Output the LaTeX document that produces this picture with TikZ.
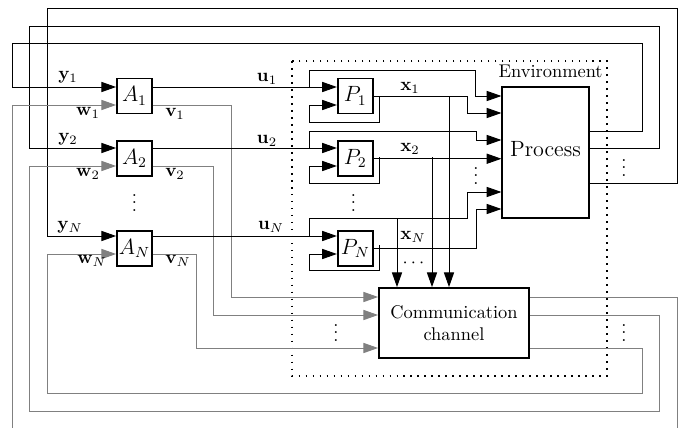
\documentclass[tikz,border=0pt]{standalone}
\usepackage{amsmath, amssymb}
\usepackage{tikz}
\usetikzlibrary{arrows.meta, positioning, calc}

\begin{document}
\begin{tikzpicture}[
    x=0.5435pt, y=-0.5435pt,
    agent/.style={rectangle, minimum size=19pt, inner sep=0pt, draw=black, line width=1pt, font=\large},
    plant/.style={agent},
    process/.style={rectangle, minimum width=47.3pt, minimum height=71.2pt, text depth=4pt, draw=black, line width=0.6pt, font=\large},
    channel/.style={rectangle, minimum width=81.5pt, minimum height=38pt, align=center, draw=black, line width=1pt},
    env/.style={draw=black, line width=0.9pt, dash pattern=on 0.9pt off 2.9pt},
    sig/.style={-{Triangle[length=8pt, width=5.5pt]}, line width=0.5pt},
    msg/.style={sig, gray},
    lbl/.style={inner sep=0pt},
    dots/.style={inner sep=0pt, anchor=base}
]
    \useasboundingbox (0,0) rectangle (685,428);

    % Environment
    \draw[env] (292,61) rectangle (607,376);
    \node[lbl, anchor=base east] (envlbl) at (603,77) {Environment};

    % Agents
    \node[agent] (A1) at (134.5,96) {$A_1$};
    \node[agent, below=14.1pt of A1] (A2) {$A_2$};
    \node[agent, below=28.8pt of A2] (AN) {$A_N$};
    \node[dots] (dA) at (134.5,211) {$\vdots$};

    % Plants
    \node[plant, right=100pt of A1] (P1) {$P_1$};
    \node[plant, right=100pt of A2] (P2) {$P_2$};
    \node[plant, right=100pt of AN] (PN) {$P_N$};
    \node[dots] (dP) at (353.5,211) {$\vdots$};

    % Process and channel
    \node[process] (proc) at (545.5,152.5) {Process};
    \node[channel] (chan) at (454,323) {Communication\\channel};

    % Junctions
    \coordinate (ju1) at (309,87);
    \coordinate (ju2) at (309,148);
    \coordinate (juN) at (309,236);
    \coordinate (jf1) at (379,96);
    \coordinate (jf2) at (379,157);
    \coordinate (jfN) at (379,245);
    \coordinate (jx1) at (449,96);
    \coordinate (jx2) at (432,157);
    \coordinate (jcN) at (397,218);

    % Process -> agents
    \draw[sig] (proc.east |- 0,131) -| (642,43) -| (12,87) -- (A1.west |- 0,87);
    \draw[sig] (proc.east |- 0,148) -| (659,26) -| (29,148) -- (A2.west |- 0,148);
    \draw[sig] (proc.east |- 0,183) -| (677,8) -| (47,236) -- (AN.west |- 0,236);

    % Channel -> agents
    \draw[msg] (chan.east |- 0,297) -| (677,434) -| (12,105) -- (A1.west |- 0,105);
    \draw[msg] (chan.east |- 0,315) -| (659,411) -| (29,166) -- (A2.west |- 0,166);
    \draw[msg] (chan.east |- 0,348) -| (642,393) -| (47,254) -- (AN.west |- 0,254);

    % Agents -> channel
    \draw[msg] (A1.east |- 0,105) -| (231,297) -- (chan.west |- 0,297);
    \draw[msg] (A2.east |- 0,166) -| (213,315) -- (chan.west |- 0,315);
    \draw[msg] (AN.east |- 0,254) -| (196,348) -- (chan.west |- 0,348);

    % Agents -> plants
    \draw[sig] (A1.east |- 0,87) -- (P1.west |- 0,87);
    \draw[sig] (A2.east |- 0,148) -- (P2.west |- 0,148);
    \draw[sig] (AN.east |- 0,236) -- (PN.west |- 0,236);

    % Plant 1
    \draw[sig] (ju1) |- (475,70) |- (proc.west |- 0,96);
    \draw[sig] (P1.east) -| (467,113) -- (proc.west |- 0,113);
    \draw[sig] (jx1) -- (chan.north -| jx1);
    \draw[sig] (jf1) |- (309,122) |- (P1.west |- 0,105);

    % Plant 2
    \draw[sig] (ju2) |- (476,131) |- (proc.west |- 0,140);
    \draw[sig] (P2.east) -- (proc.west |- P2.east);
    \draw[sig] (jx2) -- (chan.north -| jx2);
    \draw[sig] (jf2) |- (309,183) |- (P2.west |- 0,166);

    % Plant N
    \draw[sig] (juN) |- (467,218) |- (proc.west |- 0,192);
    \draw[sig] (jcN) -- (chan.north -| jcN);
    \draw[sig] (PN.east) -| (476,209) -- (proc.west |- 0,209);
    \draw[sig] (jfN) |- (309,270) |- (PN.west |- 0,254);

    % Dots
    \node[dots] (dIn) at (476,184) {$\vdots$};
    \node[dots] (dOut) at (624,176) {$\vdots$};
    \node[dots] (dCin) at (336,341) {$\vdots$};
    \node[dots] (dCout) at (624,341) {$\vdots$};
    \node[dots] (dCtop) at (415,267) {$\cdots$};

    % Labels
    \node[lbl] (ly1) at (68,77) {$\mathbf{y}_1$};
    \node[lbl] (ly2) at (68,139) {$\mathbf{y}_2$};
    \node[lbl] (lyN) at (70,227) {$\mathbf{y}_N$};
    \node[lbl] (lw1) at (88,113) {$\mathbf{w}_1$};
    \node[lbl] (lw2) at (88,174) {$\mathbf{w}_2$};
    \node[lbl] (lwN) at (92,261) {$\mathbf{w}_N$};
    \node[lbl] (lv1) at (175,114) {$\mathbf{v}_1$};
    \node[lbl] (lv2) at (175,174) {$\mathbf{v}_2$};
    \node[lbl] (lvN) at (178,261) {$\mathbf{v}_N$};
    \node[lbl] (lu1) at (267,79) {$\mathbf{u}_1$};
    \node[lbl] (lu2) at (267,141) {$\mathbf{u}_2$};
    \node[lbl] (luN) at (271,227) {$\mathbf{u}_N$};
    \node[lbl] (lx1) at (410,88) {$\mathbf{x}_1$};
    \node[lbl] (lx2) at (410,149) {$\mathbf{x}_2$};
    \node[lbl] (lxN) at (413,237) {$\mathbf{x}_N$};

\end{tikzpicture}
\end{document}
